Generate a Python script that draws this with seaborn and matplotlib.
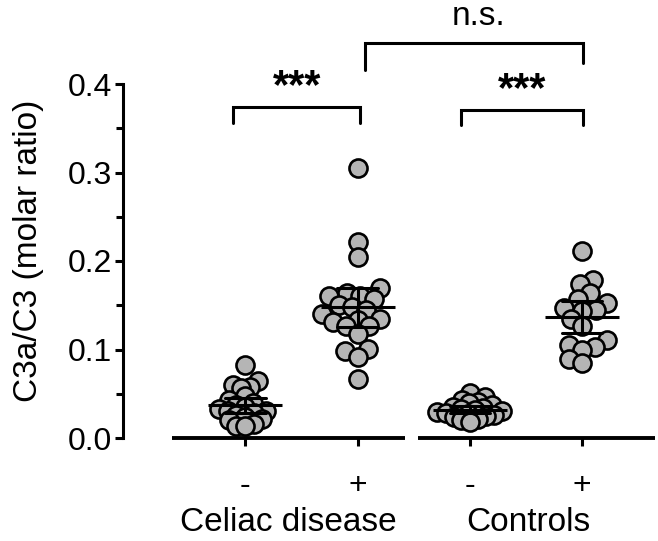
import numpy as np
import pandas as pd
import matplotlib
matplotlib.use("Agg")
import matplotlib.pyplot as plt
import matplotlib.transforms as mtransforms
from matplotlib.ticker import MultipleLocator
import seaborn as sns

# ---- data ----
celiac_neg = [0.083, 0.064, 0.060, 0.058, 0.056, 0.047, 0.043, 0.040, 0.037, 0.035,
              0.033, 0.031, 0.030, 0.028, 0.026, 0.024, 0.022, 0.020, 0.016, 0.014, 0.013]
celiac_pos = [0.305, 0.221, 0.204, 0.170, 0.164, 0.161, 0.160, 0.157, 0.150, 0.148, 0.145,
              0.140, 0.135, 0.133, 0.131, 0.126, 0.126, 0.118, 0.101, 0.098, 0.092, 0.067]
control_neg = [0.051, 0.046, 0.043, 0.041, 0.039, 0.037, 0.035, 0.034, 0.033, 0.032,
               0.030, 0.029, 0.028, 0.027, 0.026, 0.025, 0.024, 0.022, 0.020, 0.018]
control_pos = [0.211, 0.179, 0.174, 0.164, 0.157, 0.153, 0.147, 0.145, 0.143, 0.134,
               0.126, 0.111, 0.105, 0.103, 0.100, 0.089, 0.085]
group_keys = ["CD-", "CD+", "C-", "C+"]
tick_labels = ["-", "+", "-", "+"]
group_names = ["Celiac disease", "Controls"]
y_ticks = [0.0, 0.1, 0.2, 0.3, 0.4]
y_label = "C3a/C3 (molar ratio)"

df = pd.concat([pd.DataFrame({"grp": k, "val": v})
                for k, v in zip(group_keys, [celiac_neg, celiac_pos, control_neg, control_pos])],
               ignore_index=True)
df["grp"] = pd.Categorical(df["grp"], categories=group_keys)

sns.set_theme(style="ticks")
plt.rcParams["font.family"] = ["Liberation Sans", "DejaVu Sans"]

W, H = 658, 541
fig = plt.figure(figsize=(W / 100, H / 100), dpi=100)
ax = fig.add_axes([123 / W, (H - 438) / H, 532 / W, 354 / H])

LW = 2.2
# swarm spacing per group (the original lets the circles overlap)
pack = {"CD-": 4.5, "CD+": 7.5, "C-": 4.0, "C+": 7.5}
for key, sz in pack.items():
    sns.swarmplot(data=df[df["grp"] == key], x="grp", y="val", order=group_keys, size=sz,
                  color="#b5b5b5", edgecolor="black", linewidth=1.9,
                  ax=ax, zorder=3, clip_on=False)

sns.pointplot(data=df, x="grp", y="val", order=group_keys, estimator="mean",
              errorbar=("se", 2.08), color="black", markers="_", linestyle="none",
              markersize=53, markeredgewidth=LW, capsize=0.36,
              err_kws={"linewidth": LW, "zorder": 4}, ax=ax, zorder=4)

ax.set_xlim(-1.09, 3.65)
ax.set_ylim(0, 0.4)
for s in ["top", "right", "bottom"]:
    ax.spines[s].set_visible(False)
ax.spines["left"].set_linewidth(LW)
ax.spines["left"].set_color("black")

ax.set_yticks(y_ticks)
ax.set_yticklabels([f"{v:.1f}" for v in y_ticks])
ax.yaxis.set_minor_locator(MultipleLocator(0.05))
ax.tick_params(axis="y", which="major", length=6, width=LW, labelsize=23,
               color="black", labelcolor="black", pad=2)
ax.tick_params(axis="y", which="minor", length=5, width=LW, color="black")
ax.set_xticks(range(4))
ax.set_xticklabels(tick_labels)
ax.tick_params(axis="x", length=6, width=LW, labelsize=23, pad=18,
               color="black", labelcolor="black")
ax.set_xlabel("")
ax.set_ylabel(y_label, fontsize=24, color="black")
ax.yaxis.set_label_coords(-(123 - 44) / 532, 0.53)

# broken baseline
for x0, x1 in [(-0.65, 1.426), (1.542, 3.65)]:
    ax.plot([x0, x1], [0, 0], color="black", lw=LW + 0.6, clip_on=False,
            solid_capstyle="butt", zorder=2.5)

# group labels
blend = mtransforms.blended_transform_factory(ax.transData, ax.transAxes)
ax.text(0.38, -0.24, group_names[0], transform=blend, ha="center", va="center",
        fontsize=24, color="black")
ax.text(2.52, -0.24, group_names[1], transform=blend, ha="center", va="center",
        fontsize=24, color="black")

# significance brackets
def bracket(x0, x1, ytop, yl, yr):
    ax.plot([x0, x0, x1, x1], [yl, ytop, ytop, yr], color="black", lw=LW,
            clip_on=False, solid_joinstyle="miter", zorder=5)

bracket(-0.107, 1.02, 0.374, 0.356, 0.356)
bracket(1.92, 3.01, 0.371, 0.354, 0.354)
bracket(1.07, 3.01, 0.446, 0.416, 0.424)
ax.text(0.46, 0.396, "***", ha="center", va="center", fontsize=30,
        fontweight="bold", color="black")
ax.text(2.47, 0.393, "***", ha="center", va="center", fontsize=30,
        fontweight="bold", color="black")
ax.text(2.08, 0.476, "n.s.", ha="center", va="center", fontsize=24, color="black")

# freeze swarm layout, then enlarge the markers so they overlap as in the original
fig.canvas.draw()
for coll in ax.collections:
    if "draw" in coll.__dict__:
        del coll.draw
    coll.set_sizes([13.0 ** 2])

fig.savefig("out.png", dpi=100)
